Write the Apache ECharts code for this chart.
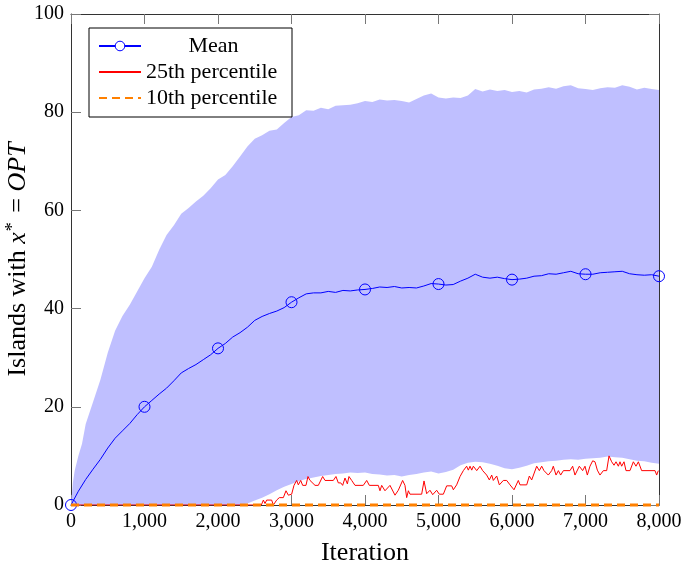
<!DOCTYPE html>
<html>
<head>
<meta charset="utf-8">
<script src="https://cdn.jsdelivr.net/npm/echarts@6/dist/echarts.min.js"></script>
<style>html,body{margin:0;padding:0;background:#fff}#c{width:682px;height:567px}</style>
</head>
<body>
<div id="c"></div>
<script>
// ---------- data ----------
const xTicks = [0, 1000, 2000, 3000, 4000, 5000, 6000, 7000, 8000];
const yTicks = [0, 20, 40, 60, 80, 100];

const bandIter = [0,25,50,100,150,200,300,400,500,600,700,800,900,1000,1100,1200,1300,1400,1500,1600,1700,1800,1900,2000,2100,2200,2300,2400,2500,2600,2700,2800,2900,3000,3100,3200,3300,3400,3500,3600,3700,3800,3900,4000,4100,4200,4300,4400,4500,4600,4700,4800,4900,5000,5100,5200,5300,5400,5500,5600,5700,5800,5900,6000,6100,6200,6300,6400,6500,6600,6700,6800,6900,7000,7100,7200,7300,7400,7500,7600,7700,7800,7900,8000];
const bandUpper = [0,4.5,7,10,12.5,16.5,21,25.5,31,35.5,38.5,40.8,43.5,46.2,48.5,52,55,57,59.3,60.5,61.8,63,64.5,66.3,67.2,69,71,73,74.6,75.3,76.2,76.5,77.8,79,79.4,80.4,80.3,80.9,80.6,81.3,81.4,81.5,81.8,82.3,82.1,82.6,82.4,82.5,82.3,82.0,82.7,83.4,83.8,83.0,82.8,83.0,82.9,83.4,84.7,84.2,84.6,84.3,84.5,84.1,84.3,84.0,84.6,84.8,85.1,84.8,85.3,85.5,84.9,84.7,84.5,84.9,85.1,85.0,85.5,85.2,84.6,85.0,84.7,84.5];
const bandLower = [0,0,0,0,0,0,0,0,0,0,0,0,0,0,0,0,0,0,0,0,0,0,0,0,0,0,0,0.3,0.9,1.5,2.2,3.0,3.7,4.3,4.9,5.3,5.6,5.9,6.1,6.3,6.4,6.6,6.5,6.6,6.3,6.2,6.0,6.1,5.8,6.1,6.3,6.6,6.8,6.4,6.7,7.2,8.1,8.6,8.8,8.7,8.4,8.0,7.5,7.3,7.6,8.0,8.5,8.7,8.9,9.0,9.2,9.3,9.2,9.4,9.5,9.6,9.9,9.7,9.6,9.3,9.0,8.9,8.6,8.4];

const meanIter = [0,100,200,300,400,500,600,700,800,900,1000,1100,1200,1300,1400,1500,1600,1700,1800,1900,2000,2100,2200,2300,2400,2500,2600,2700,2800,2900,3000,3100,3200,3300,3400,3500,3600,3700,3800,3900,4000,4100,4200,4300,4400,4500,4600,4700,4800,4900,5000,5100,5200,5300,5400,5500,5600,5700,5800,5900,6000,6100,6200,6300,6400,6500,6600,6700,6800,6900,7000,7100,7200,7300,7400,7500,7600,7700,7800,7900,8000];
const meanVal = [0,2.8,5.2,7.3,9.3,11.6,13.6,15.1,16.6,18.4,20.0,21.3,22.6,23.8,25.3,26.9,27.8,28.6,29.6,30.6,31.9,32.9,34.2,35.1,36.2,37.6,38.4,39.0,39.5,40.2,41.3,42.2,43.0,43.2,43.2,43.5,43.3,43.7,43.6,43.8,43.9,44.1,44.4,44.3,44.5,44.2,44.3,44.2,44.6,45.1,45.0,44.8,44.9,45.6,46.2,47.0,46.4,46.2,46.4,46.1,45.9,46.0,46.2,46.6,46.7,47.1,47.0,47.3,47.6,47.1,47.0,47.0,47.3,47.4,47.5,47.6,47.1,46.9,46.8,46.9,46.6];

const p25Iter = [0,2590,2617,2640,2662,2730,2753,2798,2834,2889,2925,2957,3002,3034,3070,3093,3125,3152,3197,3224,3252,3320,3365,3424,3456,3569,3605,3637,3670,3696,3728,3760,3782,3819,3864,3977,4023,4059,4181,4204,4227,4272,4340,4408,4453,4512,4544,4567,4590,4612,4771,4803,4839,4884,4921,4975,5011,5066,5111,5179,5202,5247,5293,5338,5383,5406,5429,5452,5474,5520,5565,5601,5655,5692,5724,5746,5792,5828,5882,5928,5973,6027,6086,6109,6200,6236,6268,6336,6372,6404,6435,6494,6540,6562,6599,6631,6662,6699,6789,6825,6857,6916,6961,6993,7025,7061,7098,7129,7161,7197,7243,7288,7320,7356,7388,7415,7447,7469,7492,7524,7551,7605,7651,7687,7719,7764,7946,7968,7991,8000];
const p25Val = [0,0,1.0,0.3,1.0,1.0,0,1.0,1.5,1.5,2.9,2.0,2.2,4.0,5.0,4.1,5.0,4.0,4.0,5.8,5.0,4.0,4.0,5.8,5.0,5.0,5.8,4.5,4.5,4.0,5.5,4.3,5.8,5.0,4.0,4.0,5.0,4.0,4.0,2.9,4.0,2.9,4.0,2.0,3.0,5.0,4.0,1.5,2.9,2.2,2.2,4.9,2.3,3.0,2.1,3.0,2.2,2.2,3.9,3.9,3.1,4.1,5.8,7.0,7.9,7.1,7.9,7.1,7.9,7.0,7.9,7.0,6.1,5.1,6.1,5.0,5.9,4.1,5.0,5.0,4.1,3.1,5.0,4.1,4.1,5.9,5.1,7.9,7.0,7.9,7.0,6.1,7.0,7.9,6.1,7.0,6.1,7.0,7.0,7.9,6.1,7.9,7.0,7.9,6.1,7.9,9.0,8.8,7.1,6.1,7.0,7.0,10.0,8.8,8.1,8.8,7.9,8.8,7.9,8.8,7.0,7.0,8.8,7.9,8.8,7.0,7.0,6.1,7.0,7.0];

const p10Iter = [0, 8000];
const p10Val = [0, 0];

const seriesNames = ['Mean', '25th percentile', '10th percentile'];

// ---------- build ----------
const FONT = '"Liberation Serif", "Times New Roman", serif';
const zip = (xs, ys) => xs.map((x, i) => [x, ys[i]]);
const bandData = bandIter.map((x, i) => [x, bandLower[i], bandUpper[i]]);

const axisLineColor = '#333';
const tickColor = '#777';

const chart = echarts.init(document.getElementById('c'), null, {renderer: 'canvas'});
const xBase = {
  type: 'value', min: 0, max: 8000, interval: 1000,
  axisLine: {show: true, onZero: false, lineStyle: {color: axisLineColor, width: 1}},
  axisTick: {show: true, inside: true, length: 10, lineStyle: {color: tickColor, width: 1}},
  splitLine: {show: false}
};
const yBase = {
  type: 'value', min: 0, max: 100, interval: 20,
  axisLine: {show: true, onZero: false, lineStyle: {color: axisLineColor, width: 1}},
  axisTick: {show: true, inside: true, length: 10, lineStyle: {color: tickColor, width: 1}},
  splitLine: {show: false}
};

function renderBand(params, api) {
  if (params.dataIndex !== 0) return null;
  const top = [], bottom = [];
  for (let i = 0; i < bandData.length; i++) {
    top.push(api.coord([bandData[i][0], bandData[i][2]]));
    bottom.push(api.coord([bandData[i][0], bandData[i][1]]));
  }
  const pts = top.concat(bottom.reverse());
  return {
    type: 'polygon',
    shape: {points: pts},
    style: {fill: '#bfbfff', stroke: null},
    silent: true
  };
}

chart.setOption({
  animation: false,
  backgroundColor: '#fff',
  grid: {left: 71, right: 23, top: 14, bottom: 62, containLabel: false, outerBoundsMode: 'none'},
  xAxis: [
    Object.assign({}, xBase, {
      position: 'bottom',
      axisLabel: {show: true, margin: 7, color: '#000', fontFamily: FONT, fontSize: 20,
        formatter: v => xTicks.includes(v) ? v.toLocaleString('en-US') : ''},
      name: 'Iteration', nameLocation: 'middle', nameGap: 35, nameMoveOverlap: false,
      nameTextStyle: {fontFamily: FONT, fontSize: 26, color: '#000'}
    }),
    Object.assign({}, xBase, {position: 'top', axisLabel: {show: false}})
  ],
  yAxis: [
    Object.assign({}, yBase, {
      position: 'left',
      axisLabel: {show: true, margin: 7, color: '#000', fontFamily: FONT, fontSize: 20,
        formatter: v => yTicks.includes(v) ? String(v) : ''},
      name: '{n|Islands with }{i|x}{s|*}{n| = }{i|OPT}',
      nameLocation: 'middle', nameGap: 39, nameRotate: 90, nameMoveOverlap: false,
      nameTextStyle: {
        color: '#000', fontFamily: FONT, fontSize: 26,
        rich: {
          n: {fontFamily: FONT, fontSize: 26, lineHeight: 28, color: '#000'},
          i: {fontFamily: FONT, fontSize: 26, lineHeight: 28, fontStyle: 'italic', color: '#000'},
          s: {fontFamily: FONT, fontSize: 18, lineHeight: 17, verticalAlign: 'top', color: '#000', padding: [0, 3, 0, 1]}
        }
      }
    }),
    Object.assign({}, yBase, {position: 'right', axisLabel: {show: false}})
  ],
  legend: {
    left: 89, top: 28, orient: 'vertical',
    padding: [7, 11, 8, 9], itemGap: 4, itemWidth: 42, itemHeight: 12,
    borderColor: '#000', borderWidth: 1, backgroundColor: '#fff', borderRadius: 0,
    selectedMode: false,
    textStyle: {
      fontFamily: FONT, fontSize: 22, color: '#000', lineHeight: 20,
      rich: {
        c: {fontFamily: FONT, fontSize: 22, lineHeight: 20, width: 135, align: 'center', color: '#000'},
        l: {fontFamily: FONT, fontSize: 22, lineHeight: 20, width: 135, align: 'left', color: '#000'}
      }
    },
    formatter: name => name === seriesNames[0] ? '{c|' + name + '}' : '{l|' + name + '}',
    data: [
      {name: seriesNames[0], itemStyle: {color: '#fff', borderColor: '#0000ff', borderWidth: 1}},
      {name: seriesNames[1], itemStyle: {opacity: 0}},
      {name: seriesNames[2], itemStyle: {opacity: 0}}
    ]
  },
  series: [
    {
      name: 'band', type: 'custom', renderItem: renderBand, data: bandData,
      encode: {x: 0, y: [1, 2]}, silent: true, z: 1, clip: true
    },
    {
      name: seriesNames[0], type: 'line', data: zip(meanIter, meanVal),
      showSymbol: true, showAllSymbol: true, symbol: 'circle',
      symbolSize: (v, p) => (p.dataIndex % 10 === 0 ? 11 : 0),
      itemStyle: {color: 'rgba(0,0,0,0)', borderColor: '#0000ff', borderWidth: 1},
      lineStyle: {color: '#0000ff', width: 1}, z: 3, clip: false
    },
    {
      name: seriesNames[1], type: 'line', data: zip(p25Iter, p25Val),
      symbol: 'none', lineStyle: {color: '#ff0000', width: 1}, itemStyle: {color: '#ff0000'}, z: 4
    },
    {
      name: seriesNames[2], type: 'line', data: zip(p10Iter, p10Val),
      symbol: 'none', lineStyle: {color: '#ff8000', width: 3, type: [8, 5]}, itemStyle: {color: '#ff8000'}, z: 5, clip: false
    }
  ]
});
</script>
</body>
</html>
